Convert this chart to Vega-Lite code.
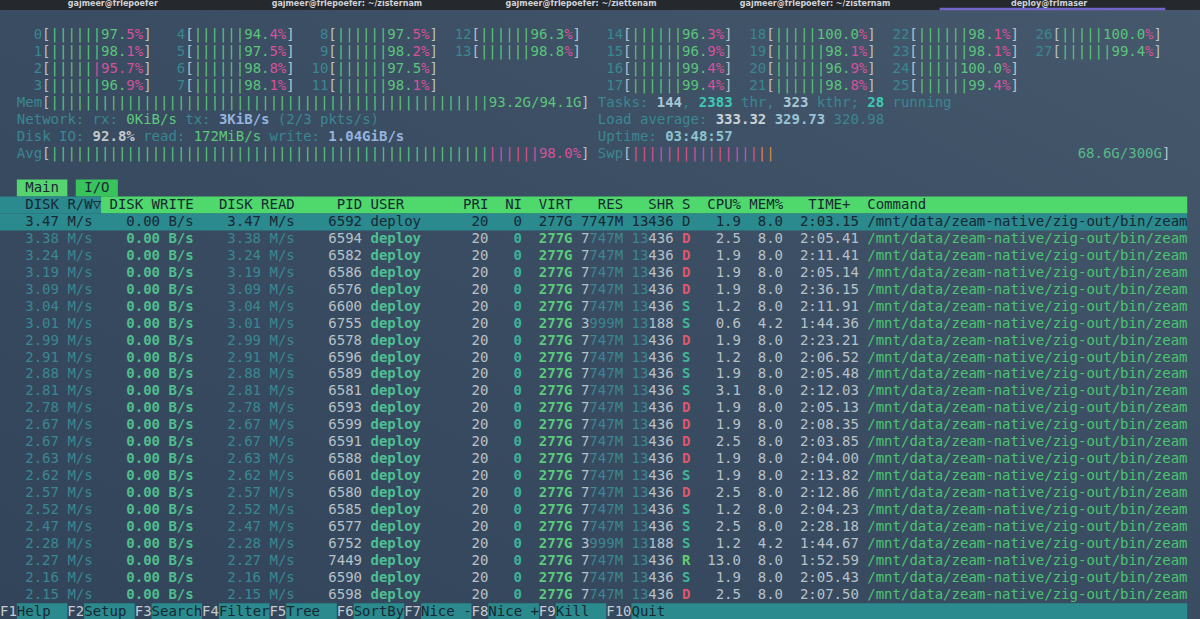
{
  "$schema": "https://vega.github.io/schema/vega-lite/v6.json",
  "description": "htop I/O tab: per-CPU meters, memory/swap summary and processes sorted by DISK R/W",
  "width": 1200,
  "height": 619,
  "padding": 0,
  "autosize": {"type": "none"},
  "background": "#36495d",
  "config": {
    "view": {"stroke": null},
    "axis": {"disable": true},
    "text": {"font": "DejaVu Sans Mono", "fontSize": 14, "baseline": "middle", "align": "left"}
  },
  "datasets": {
    "cpus": [
      {"id": 0, "pct": 97.5, "user": 82.1}, {"id": 1, "pct": 98.1, "user": 83.4},
      {"id": 2, "pct": 95.7, "user": 45.2}, {"id": 3, "pct": 96.9, "user": 81.6},
      {"id": 4, "pct": 94.4, "user": 80.9}, {"id": 5, "pct": 97.5, "user": 82.7},
      {"id": 6, "pct": 98.8, "user": 84.0}, {"id": 7, "pct": 98.1, "user": 83.1},
      {"id": 8, "pct": 97.5, "user": 82.5}, {"id": 9, "pct": 98.2, "user": 83.6},
      {"id": 10, "pct": 97.5, "user": 88.9}, {"id": 11, "pct": 98.1, "user": 82.8},
      {"id": 12, "pct": 96.3, "user": 89.4}, {"id": 13, "pct": 98.8, "user": 90.2},
      {"id": 14, "pct": 96.3, "user": 81.2}, {"id": 15, "pct": 96.9, "user": 82.0},
      {"id": 16, "pct": 99.4, "user": 84.6}, {"id": 17, "pct": 99.4, "user": 84.1},
      {"id": 18, "pct": 100.0, "user": 91.3}, {"id": 19, "pct": 98.1, "user": 83.3},
      {"id": 20, "pct": 96.9, "user": 81.9}, {"id": 21, "pct": 98.8, "user": 84.2},
      {"id": 22, "pct": 98.1, "user": 83.0}, {"id": 23, "pct": 98.1, "user": 82.9},
      {"id": 24, "pct": 100.0, "user": 90.6}, {"id": 25, "pct": 99.4, "user": 84.4},
      {"id": 26, "pct": 100.0, "user": 91.7}, {"id": 27, "pct": 99.4, "user": 89.8}
    ],
    "sys": [
      {"memUsed": 93.2, "memTotal": 94.1, "rxKiB": 0, "txKiB": 3, "pktsRx": 2, "pktsTx": 3,
       "diskUtil": 92.8, "readMiB": 172, "writeGiB": 1.04, "avg": 98.0, "avgUser": 82.5,
       "tasks": 144, "threads": 2383, "kthreads": 323, "running": 28,
       "load1": 333.32, "load5": 329.73, "load15": 320.98, "uptime": "03:48:57",
       "swpUsed": 68.6, "swpCache": 8, "swpTotal": 300}
    ],
    "procs": [
      {"rw": 3.47, "wr": 0, "rd": 3.47, "pid": 6592, "user": "deploy", "pri": 20, "ni": 0, "virt": "277G", "res": "7747M", "shr": 13436, "s": "D", "cpu": 1.9, "mem": 8.0, "time": "2:03.15", "cmd": "/mnt/data/zeam-native/zig-out/bin/zeam"},
      {"rw": 3.38, "wr": 0, "rd": 3.38, "pid": 6594, "user": "deploy", "pri": 20, "ni": 0, "virt": "277G", "res": "7747M", "shr": 13436, "s": "D", "cpu": 2.5, "mem": 8.0, "time": "2:05.41", "cmd": "/mnt/data/zeam-native/zig-out/bin/zeam"},
      {"rw": 3.24, "wr": 0, "rd": 3.24, "pid": 6582, "user": "deploy", "pri": 20, "ni": 0, "virt": "277G", "res": "7747M", "shr": 13436, "s": "D", "cpu": 1.9, "mem": 8.0, "time": "2:11.41", "cmd": "/mnt/data/zeam-native/zig-out/bin/zeam"},
      {"rw": 3.19, "wr": 0, "rd": 3.19, "pid": 6586, "user": "deploy", "pri": 20, "ni": 0, "virt": "277G", "res": "7747M", "shr": 13436, "s": "D", "cpu": 1.9, "mem": 8.0, "time": "2:05.14", "cmd": "/mnt/data/zeam-native/zig-out/bin/zeam"},
      {"rw": 3.09, "wr": 0, "rd": 3.09, "pid": 6576, "user": "deploy", "pri": 20, "ni": 0, "virt": "277G", "res": "7747M", "shr": 13436, "s": "D", "cpu": 1.9, "mem": 8.0, "time": "2:36.15", "cmd": "/mnt/data/zeam-native/zig-out/bin/zeam"},
      {"rw": 3.04, "wr": 0, "rd": 3.04, "pid": 6600, "user": "deploy", "pri": 20, "ni": 0, "virt": "277G", "res": "7747M", "shr": 13436, "s": "S", "cpu": 1.2, "mem": 8.0, "time": "2:11.91", "cmd": "/mnt/data/zeam-native/zig-out/bin/zeam"},
      {"rw": 3.01, "wr": 0, "rd": 3.01, "pid": 6755, "user": "deploy", "pri": 20, "ni": 0, "virt": "277G", "res": "3999M", "shr": 13188, "s": "S", "cpu": 0.6, "mem": 4.2, "time": "1:44.36", "cmd": "/mnt/data/zeam-native/zig-out/bin/zeam"},
      {"rw": 2.99, "wr": 0, "rd": 2.99, "pid": 6578, "user": "deploy", "pri": 20, "ni": 0, "virt": "277G", "res": "7747M", "shr": 13436, "s": "D", "cpu": 1.9, "mem": 8.0, "time": "2:23.21", "cmd": "/mnt/data/zeam-native/zig-out/bin/zeam"},
      {"rw": 2.91, "wr": 0, "rd": 2.91, "pid": 6596, "user": "deploy", "pri": 20, "ni": 0, "virt": "277G", "res": "7747M", "shr": 13436, "s": "S", "cpu": 1.2, "mem": 8.0, "time": "2:06.52", "cmd": "/mnt/data/zeam-native/zig-out/bin/zeam"},
      {"rw": 2.88, "wr": 0, "rd": 2.88, "pid": 6589, "user": "deploy", "pri": 20, "ni": 0, "virt": "277G", "res": "7747M", "shr": 13436, "s": "S", "cpu": 1.9, "mem": 8.0, "time": "2:05.48", "cmd": "/mnt/data/zeam-native/zig-out/bin/zeam"},
      {"rw": 2.81, "wr": 0, "rd": 2.81, "pid": 6581, "user": "deploy", "pri": 20, "ni": 0, "virt": "277G", "res": "7747M", "shr": 13436, "s": "S", "cpu": 3.1, "mem": 8.0, "time": "2:12.03", "cmd": "/mnt/data/zeam-native/zig-out/bin/zeam"},
      {"rw": 2.78, "wr": 0, "rd": 2.78, "pid": 6593, "user": "deploy", "pri": 20, "ni": 0, "virt": "277G", "res": "7747M", "shr": 13436, "s": "D", "cpu": 1.9, "mem": 8.0, "time": "2:05.13", "cmd": "/mnt/data/zeam-native/zig-out/bin/zeam"},
      {"rw": 2.67, "wr": 0, "rd": 2.67, "pid": 6599, "user": "deploy", "pri": 20, "ni": 0, "virt": "277G", "res": "7747M", "shr": 13436, "s": "D", "cpu": 1.9, "mem": 8.0, "time": "2:08.35", "cmd": "/mnt/data/zeam-native/zig-out/bin/zeam"},
      {"rw": 2.67, "wr": 0, "rd": 2.67, "pid": 6591, "user": "deploy", "pri": 20, "ni": 0, "virt": "277G", "res": "7747M", "shr": 13436, "s": "D", "cpu": 2.5, "mem": 8.0, "time": "2:03.85", "cmd": "/mnt/data/zeam-native/zig-out/bin/zeam"},
      {"rw": 2.63, "wr": 0, "rd": 2.63, "pid": 6588, "user": "deploy", "pri": 20, "ni": 0, "virt": "277G", "res": "7747M", "shr": 13436, "s": "D", "cpu": 1.9, "mem": 8.0, "time": "2:04.00", "cmd": "/mnt/data/zeam-native/zig-out/bin/zeam"},
      {"rw": 2.62, "wr": 0, "rd": 2.62, "pid": 6601, "user": "deploy", "pri": 20, "ni": 0, "virt": "277G", "res": "7747M", "shr": 13436, "s": "S", "cpu": 1.9, "mem": 8.0, "time": "2:13.82", "cmd": "/mnt/data/zeam-native/zig-out/bin/zeam"},
      {"rw": 2.57, "wr": 0, "rd": 2.57, "pid": 6580, "user": "deploy", "pri": 20, "ni": 0, "virt": "277G", "res": "7747M", "shr": 13436, "s": "D", "cpu": 2.5, "mem": 8.0, "time": "2:12.86", "cmd": "/mnt/data/zeam-native/zig-out/bin/zeam"},
      {"rw": 2.52, "wr": 0, "rd": 2.52, "pid": 6585, "user": "deploy", "pri": 20, "ni": 0, "virt": "277G", "res": "7747M", "shr": 13436, "s": "S", "cpu": 1.2, "mem": 8.0, "time": "2:04.23", "cmd": "/mnt/data/zeam-native/zig-out/bin/zeam"},
      {"rw": 2.47, "wr": 0, "rd": 2.47, "pid": 6577, "user": "deploy", "pri": 20, "ni": 0, "virt": "277G", "res": "7747M", "shr": 13436, "s": "S", "cpu": 2.5, "mem": 8.0, "time": "2:28.18", "cmd": "/mnt/data/zeam-native/zig-out/bin/zeam"},
      {"rw": 2.28, "wr": 0, "rd": 2.28, "pid": 6752, "user": "deploy", "pri": 20, "ni": 0, "virt": "277G", "res": "3999M", "shr": 13188, "s": "S", "cpu": 1.2, "mem": 4.2, "time": "1:44.67", "cmd": "/mnt/data/zeam-native/zig-out/bin/zeam"},
      {"rw": 2.27, "wr": 0, "rd": 2.27, "pid": 7449, "user": "deploy", "pri": 20, "ni": 0, "virt": "277G", "res": "7747M", "shr": 13436, "s": "R", "cpu": 13.0, "mem": 8.0, "time": "1:52.59", "cmd": "/mnt/data/zeam-native/zig-out/bin/zeam"},
      {"rw": 2.16, "wr": 0, "rd": 2.16, "pid": 6590, "user": "deploy", "pri": 20, "ni": 0, "virt": "277G", "res": "7747M", "shr": 13436, "s": "S", "cpu": 1.9, "mem": 8.0, "time": "2:05.43", "cmd": "/mnt/data/zeam-native/zig-out/bin/zeam"},
      {"rw": 2.15, "wr": 0, "rd": 2.15, "pid": 6598, "user": "deploy", "pri": 20, "ni": 0, "virt": "277G", "res": "7747M", "shr": 13436, "s": "D", "cpu": 2.5, "mem": 8.0, "time": "2:07.50", "cmd": "/mnt/data/zeam-native/zig-out/bin/zeam"}
    ],
    "keys": [
      {"key": "F1", "label": "Help"}, {"key": "F2", "label": "Setup"}, {"key": "F3", "label": "Search"},
      {"key": "F4", "label": "Filter"}, {"key": "F5", "label": "Tree"}, {"key": "F6", "label": "SortBy"},
      {"key": "F7", "label": "Nice -"}, {"key": "F8", "label": "Nice +"}, {"key": "F9", "label": "Kill"},
      {"key": "F10", "label": "Quit"}
    ],
    "tabs": [
      {"title": "gajmeer@frlepoefer"},
      {"title": "gajmeer@frlepoefer: ~/zisternam"},
      {"title": "gajmeer@frlepoefer: ~/ziettenam"},
      {"title": "gajmeer@frlepoefer: ~/zisternam"},
      {"title": "deploy@frlmaser"}
    ]
  },
  "layer": [
    {
      "description": "window chrome, tabs, header bar, selected row",
      "data": {"values": [{}]},
      "layer": [
        {
          "mark": {"type": "rect", "color": {"gradient": "linear", "x1": 0, "y1": 1, "x2": 1, "y2": 0,
            "stops": [{"offset": 0, "color": "#31445a"}, {"offset": 0.55, "color": "#3a4d62"}, {"offset": 1, "color": "#45586c"}]}},
          "encoding": {
            "x": {"datum": 0, "type": "quantitative", "scale": {"domain": [0, 142.52], "nice": false, "zero": false}},
            "x2": {"datum": 142.52},
            "y": {"datum": -2.094, "type": "quantitative", "scale": {"domain": [-2.094, 34.425], "nice": false, "zero": false, "reverse": true}},
            "y2": {"datum": 34.425}
          }
        },
        {"mark": {"type": "rect", "color": "#25282c"}, "encoding": {"x": {"datum": 0}, "x2": {"datum": 142.52}, "y": {"datum": -2.094}, "y2": {"datum": -1.5}}},
        {"mark": {"type": "rect", "color": "#7466c8"}, "encoding": {"x": {"datum": 111.6}, "x2": {"datum": 138.4}, "y": {"datum": -1.63}, "y2": {"datum": -1.49}}},
        {"mark": {"type": "rect", "color": "#56d470"}, "encoding": {"x": {"datum": 2}, "x2": {"datum": 8}, "y": {"datum": 8.5}, "y2": {"datum": 9.5}}},
        {"mark": {"type": "rect", "color": "#39c35c"}, "encoding": {"x": {"datum": 9}, "x2": {"datum": 14}, "y": {"datum": 8.5}, "y2": {"datum": 9.5}}},
        {"mark": {"type": "rect", "color": "#2a8a8d"}, "encoding": {"x": {"datum": 0}, "x2": {"datum": 12}, "y": {"datum": 9.5}, "y2": {"datum": 10.5}}},
        {"mark": {"type": "rect", "color": "#4fd86b"}, "encoding": {"x": {"datum": 12}, "x2": {"datum": 141}, "y": {"datum": 9.5}, "y2": {"datum": 10.5}}},
        {"mark": {"type": "rect", "color": "#2a8a8d"}, "encoding": {"x": {"datum": 0}, "x2": {"datum": 141}, "y": {"datum": 10.5}, "y2": {"datum": 11.5}}},
        {"mark": {"type": "text", "color": "#182834"}, "encoding": {"x": {"datum": 3}, "y": {"datum": 9}, "text": {"value": "Main"}}},
        {"mark": {"type": "text", "color": "#182834"}, "encoding": {"x": {"datum": 10}, "y": {"datum": 9}, "text": {"value": "I/O"}}},
        {
          "encoding": {"y": {"datum": 10}},
          "layer": [
            {"mark": {"type": "text", "color": "#182834"}, "encoding": {"x": {"datum": 3}, "text": {"value": "DISK R/W▽"}}},
            {"mark": {"type": "text", "color": "#182834"}, "encoding": {"x": {"datum": 13}, "text": {"value": "DISK WRITE"}}},
            {"mark": {"type": "text", "color": "#182834"}, "encoding": {"x": {"datum": 26}, "text": {"value": "DISK READ"}}},
            {"mark": {"type": "text", "color": "#182834"}, "encoding": {"x": {"datum": 40}, "text": {"value": "PID"}}},
            {"mark": {"type": "text", "color": "#182834"}, "encoding": {"x": {"datum": 44}, "text": {"value": "USER"}}},
            {"mark": {"type": "text", "color": "#182834"}, "encoding": {"x": {"datum": 55}, "text": {"value": "PRI"}}},
            {"mark": {"type": "text", "color": "#182834"}, "encoding": {"x": {"datum": 60}, "text": {"value": "NI"}}},
            {"mark": {"type": "text", "color": "#182834"}, "encoding": {"x": {"datum": 64}, "text": {"value": "VIRT"}}},
            {"mark": {"type": "text", "color": "#182834"}, "encoding": {"x": {"datum": 71}, "text": {"value": "RES"}}},
            {"mark": {"type": "text", "color": "#182834"}, "encoding": {"x": {"datum": 77}, "text": {"value": "SHR"}}},
            {"mark": {"type": "text", "color": "#182834"}, "encoding": {"x": {"datum": 81}, "text": {"value": "S"}}},
            {"mark": {"type": "text", "color": "#182834"}, "encoding": {"x": {"datum": 84}, "text": {"value": "CPU%"}}},
            {"mark": {"type": "text", "color": "#182834"}, "encoding": {"x": {"datum": 89}, "text": {"value": "MEM%"}}},
            {"mark": {"type": "text", "color": "#182834"}, "encoding": {"x": {"datum": 96}, "text": {"value": "TIME+"}}},
            {"mark": {"type": "text", "color": "#182834"}, "encoding": {"x": {"datum": 103}, "text": {"value": "Command"}}}
          ]
        }
      ]
    },
    {
      "description": "terminal tab titles in the dark strip at the top",
      "data": {"name": "tabs"},
      "transform": [
        {"window": [{"op": "row_number", "as": "n"}]},
        {"calculate": "13.4 + 27.8 * (datum.n - 1)", "as": "tx"}
      ],
      "mark": {"type": "text", "align": "center", "font": "DejaVu Sans", "fontSize": 8, "fontWeight": "bold", "color": "#cfd2d6"},
      "encoding": {"x": {"field": "tx", "type": "quantitative"}, "y": {"datum": -1.83}, "text": {"field": "title"}}
    },
    {
      "description": "per-CPU bar meters",
      "data": {"name": "cpus"},
      "transform": [
        {"calculate": "datum.id < 14 ? datum.id : datum.id - 14", "as": "j"},
        {"calculate": "(datum.id < 14 ? 5 : 74) + 17 * floor(datum.j / 4)", "as": "c"},
        {"calculate": "datum.j % 4", "as": "line"},
        {"calculate": "pad(format(datum.pct, '.1f') + '%', 11, '|', 'left')", "as": "full"},
        {"calculate": "round(datum.user * 11 / 100)", "as": "g"},
        {"calculate": "substring(datum.full, 0, datum.g)", "as": "gt"},
        {"calculate": "substring(datum.full, datum.g)", "as": "pt"},
        {"calculate": "datum.c + 1", "as": "c1"},
        {"calculate": "datum.c + 1 + datum.g", "as": "c2"},
        {"calculate": "datum.c + 12", "as": "c3"}
      ],
      "encoding": {"y": {"field": "line", "type": "quantitative"}},
      "layer": [
        {"mark": {"type": "text", "align": "right", "color": "#3b8791"}, "encoding": {"x": {"field": "c", "type": "quantitative"}, "text": {"field": "id", "type": "nominal"}}},
        {"mark": {"type": "text", "color": "#b8c1c8"}, "encoding": {"x": {"field": "c", "type": "quantitative"}, "text": {"value": "["}}},
        {"mark": {"type": "text", "color": "#5bc57b"}, "encoding": {"x": {"field": "c1", "type": "quantitative"}, "text": {"field": "gt"}}},
        {"mark": {"type": "text", "color": "#d7519a"}, "encoding": {"x": {"field": "c2", "type": "quantitative"}, "text": {"field": "pt"}}},
        {"mark": {"type": "text", "color": "#b8c1c8"}, "encoding": {"x": {"field": "c3", "type": "quantitative"}, "text": {"value": "]"}}}
      ]
    },
    {
      "description": "memory, network, disk, average, tasks, load, uptime, swap",
      "data": {"name": "sys"},
      "transform": [
        {"calculate": "pad(format(datum.memUsed, '.1f') + 'G/' + format(datum.memTotal, '.1f') + 'G', 63, '|', 'left')", "as": "memBar"},
        {"calculate": "datum.rxKiB + 'KiB/s'", "as": "rxT"},
        {"calculate": "datum.txKiB + 'KiB/s'", "as": "txT"},
        {"calculate": "'(' + datum.pktsRx + '/' + datum.pktsTx + ' pkts/s)'", "as": "pktT"},
        {"calculate": "format(datum.diskUtil, '.1f') + '%'", "as": "utilT"},
        {"calculate": "datum.readMiB + 'MiB/s'", "as": "readT"},
        {"calculate": "format(datum.writeGiB, '.2f') + 'GiB/s'", "as": "writeT"},
        {"calculate": "pad(format(datum.avg, '.1f') + '%', 63, '|', 'left')", "as": "avgFull"},
        {"calculate": "round(datum.avgUser * 63 / 100)", "as": "ag"},
        {"calculate": "substring(datum.avgFull, 0, datum.ag)", "as": "avgG"},
        {"calculate": "substring(datum.avgFull, datum.ag)", "as": "avgP"},
        {"calculate": "6 + datum.ag", "as": "avgPX"},
        {"calculate": "ceil(datum.swpUsed / datum.swpTotal * 63)", "as": "sp"},
        {"calculate": "pad('', datum.sp, '|')", "as": "swpP"},
        {"calculate": "pad('', ceil(datum.swpCache / datum.swpTotal * 63), '|')", "as": "swpC"},
        {"calculate": "75 + datum.sp", "as": "swpCX"},
        {"calculate": "format(datum.swpUsed, '.1f') + 'G/' + datum.swpTotal + 'G'", "as": "swpT"}
      ],
      "layer": [
        {"mark": {"type": "text", "color": "#3b8791"}, "encoding": {"x": {"datum": 2}, "y": {"datum": 4}, "text": {"value": "Mem"}}},
        {"mark": {"type": "text", "color": "#b8c1c8"}, "encoding": {"x": {"datum": 5}, "y": {"datum": 4}, "text": {"value": "["}}},
        {"mark": {"type": "text", "color": "#5bc57b"}, "encoding": {"x": {"datum": 6}, "y": {"datum": 4}, "text": {"field": "memBar"}}},
        {"mark": {"type": "text", "color": "#b8c1c8"}, "encoding": {"x": {"datum": 69}, "y": {"datum": 4}, "text": {"value": "]"}}},

        {"mark": {"type": "text", "color": "#3b8791"}, "encoding": {"x": {"datum": 2}, "y": {"datum": 5}, "text": {"value": "Network:"}}},
        {"mark": {"type": "text", "color": "#3b8791"}, "encoding": {"x": {"datum": 11}, "y": {"datum": 5}, "text": {"value": "rx:"}}},
        {"mark": {"type": "text", "color": "#5ec87c"}, "encoding": {"x": {"datum": 15}, "y": {"datum": 5}, "text": {"field": "rxT"}}},
        {"mark": {"type": "text", "color": "#3b8791"}, "encoding": {"x": {"datum": 22}, "y": {"datum": 5}, "text": {"value": "tx:"}}},
        {"mark": {"type": "text", "color": "#95b3df", "fontWeight": "bold"}, "encoding": {"x": {"datum": 26}, "y": {"datum": 5}, "text": {"field": "txT"}}},
        {"mark": {"type": "text", "color": "#3b8791"}, "encoding": {"x": {"datum": 33}, "y": {"datum": 5}, "text": {"field": "pktT"}}},

        {"mark": {"type": "text", "color": "#3b8791"}, "encoding": {"x": {"datum": 2}, "y": {"datum": 6}, "text": {"value": "Disk IO:"}}},
        {"mark": {"type": "text", "color": "#c2c9ce", "fontWeight": "bold"}, "encoding": {"x": {"datum": 11}, "y": {"datum": 6}, "text": {"field": "utilT"}}},
        {"mark": {"type": "text", "color": "#3b8791"}, "encoding": {"x": {"datum": 17}, "y": {"datum": 6}, "text": {"value": "read:"}}},
        {"mark": {"type": "text", "color": "#5ec87c"}, "encoding": {"x": {"datum": 23}, "y": {"datum": 6}, "text": {"field": "readT"}}},
        {"mark": {"type": "text", "color": "#3b8791"}, "encoding": {"x": {"datum": 32}, "y": {"datum": 6}, "text": {"value": "write:"}}},
        {"mark": {"type": "text", "color": "#95b3df", "fontWeight": "bold"}, "encoding": {"x": {"datum": 39}, "y": {"datum": 6}, "text": {"field": "writeT"}}},

        {"mark": {"type": "text", "color": "#3b8791"}, "encoding": {"x": {"datum": 2}, "y": {"datum": 7}, "text": {"value": "Avg"}}},
        {"mark": {"type": "text", "color": "#b8c1c8"}, "encoding": {"x": {"datum": 5}, "y": {"datum": 7}, "text": {"value": "["}}},
        {"mark": {"type": "text", "color": "#5bc57b"}, "encoding": {"x": {"datum": 6}, "y": {"datum": 7}, "text": {"field": "avgG"}}},
        {"mark": {"type": "text", "color": "#d7519a"}, "encoding": {"x": {"field": "avgPX", "type": "quantitative"}, "y": {"datum": 7}, "text": {"field": "avgP"}}},
        {"mark": {"type": "text", "color": "#b8c1c8"}, "encoding": {"x": {"datum": 69}, "y": {"datum": 7}, "text": {"value": "]"}}},

        {"mark": {"type": "text", "color": "#3b8791"}, "encoding": {"x": {"datum": 71}, "y": {"datum": 4}, "text": {"value": "Tasks:"}}},
        {"mark": {"type": "text", "color": "#a9c7d7", "fontWeight": "bold"}, "encoding": {"x": {"datum": 78}, "y": {"datum": 4}, "text": {"field": "tasks", "type": "nominal"}}},
        {"mark": {"type": "text", "color": "#3b8791"}, "encoding": {"x": {"datum": 81}, "y": {"datum": 4}, "text": {"value": ","}}},
        {"mark": {"type": "text", "color": "#3ccab6", "fontWeight": "bold"}, "encoding": {"x": {"datum": 83}, "y": {"datum": 4}, "text": {"field": "threads", "type": "nominal"}}},
        {"mark": {"type": "text", "color": "#3b8791"}, "encoding": {"x": {"datum": 88}, "y": {"datum": 4}, "text": {"value": "thr,"}}},
        {"mark": {"type": "text", "color": "#a9c7d7", "fontWeight": "bold"}, "encoding": {"x": {"datum": 93}, "y": {"datum": 4}, "text": {"field": "kthreads", "type": "nominal"}}},
        {"mark": {"type": "text", "color": "#3b8791"}, "encoding": {"x": {"datum": 97}, "y": {"datum": 4}, "text": {"value": "kthr;"}}},
        {"mark": {"type": "text", "color": "#3ccab6", "fontWeight": "bold"}, "encoding": {"x": {"datum": 103}, "y": {"datum": 4}, "text": {"field": "running", "type": "nominal"}}},
        {"mark": {"type": "text", "color": "#3b8791"}, "encoding": {"x": {"datum": 106}, "y": {"datum": 4}, "text": {"value": "running"}}},

        {"mark": {"type": "text", "color": "#3b8791"}, "encoding": {"x": {"datum": 71}, "y": {"datum": 5}, "text": {"value": "Load average:"}}},
        {"mark": {"type": "text", "color": "#cbd2d8", "fontWeight": "bold"}, "encoding": {"x": {"datum": 85}, "y": {"datum": 5}, "text": {"field": "load1", "type": "quantitative", "format": ".2f"}}},
        {"mark": {"type": "text", "color": "#97c4d6", "fontWeight": "bold"}, "encoding": {"x": {"datum": 92}, "y": {"datum": 5}, "text": {"field": "load5", "type": "quantitative", "format": ".2f"}}},
        {"mark": {"type": "text", "color": "#3b8791"}, "encoding": {"x": {"datum": 99}, "y": {"datum": 5}, "text": {"field": "load15", "type": "quantitative", "format": ".2f"}}},

        {"mark": {"type": "text", "color": "#3b8791"}, "encoding": {"x": {"datum": 71}, "y": {"datum": 6}, "text": {"value": "Uptime:"}}},
        {"mark": {"type": "text", "color": "#8cc3cc", "fontWeight": "bold"}, "encoding": {"x": {"datum": 79}, "y": {"datum": 6}, "text": {"field": "uptime"}}},

        {"mark": {"type": "text", "color": "#3b8791"}, "encoding": {"x": {"datum": 71}, "y": {"datum": 7}, "text": {"value": "Swp"}}},
        {"mark": {"type": "text", "color": "#b8c1c8"}, "encoding": {"x": {"datum": 74}, "y": {"datum": 7}, "text": {"value": "["}}},
        {"mark": {"type": "text", "color": "#d7519a"}, "encoding": {"x": {"datum": 75}, "y": {"datum": 7}, "text": {"field": "swpP"}}},
        {"mark": {"type": "text", "color": "#d98b3d"}, "encoding": {"x": {"field": "swpCX", "type": "quantitative"}, "y": {"datum": 7}, "text": {"field": "swpC"}}},
        {"mark": {"type": "text", "align": "right", "color": "#58b98a"}, "encoding": {"x": {"datum": 138}, "y": {"datum": 7}, "text": {"field": "swpT"}}},
        {"mark": {"type": "text", "color": "#b8c1c8"}, "encoding": {"x": {"datum": 138}, "y": {"datum": 7}, "text": {"value": "]"}}}
      ]
    },
    {
      "description": "process table, I/O columns first",
      "data": {"name": "procs"},
      "transform": [
        {"window": [{"op": "row_number", "as": "rank"}]},
        {"calculate": "datum.rank + 10", "as": "line"},
        {"calculate": "format(datum.rw, '.2f') + ' M/s'", "as": "rwT"},
        {"calculate": "format(datum.wr, '.2f') + ' B/s'", "as": "wrT"},
        {"calculate": "format(datum.rd, '.2f') + ' M/s'", "as": "rdT"},
        {"calculate": "substring(datum.res, 0, length(datum.res) - 4)", "as": "resH"},
        {"calculate": "substring(datum.res, length(datum.res) - 4)", "as": "resT"},
        {"calculate": "substring(datum.shr + '', 0, length(datum.shr + '') - 3)", "as": "shrH"},
        {"calculate": "substring(datum.shr + '', length(datum.shr + '') - 3)", "as": "shrT"}
      ],
      "encoding": {"y": {"field": "line", "type": "quantitative"}},
      "layer": [
        {"mark": {"type": "text"}, "encoding": {"x": {"datum": 3}, "text": {"field": "rwT"}, "color": {"condition": {"test": "datum.rank === 1", "value": "#182834"}, "value": "#3b8791"}}},
        {"transform": [{"filter": "datum.rank > 1"}], "mark": {"type": "text", "fontWeight": "bold", "color": "#50bd8d"}, "encoding": {"x": {"datum": 15}, "text": {"field": "wrT"}}},
        {"transform": [{"filter": "datum.rank === 1"}], "mark": {"type": "text", "color": "#182834"}, "encoding": {"x": {"datum": 15}, "text": {"field": "wrT"}}},
        {"mark": {"type": "text"}, "encoding": {"x": {"datum": 27}, "text": {"field": "rdT"}, "color": {"condition": {"test": "datum.rank === 1", "value": "#182834"}, "value": "#3b8791"}}},
        {"mark": {"type": "text", "align": "right"}, "encoding": {"x": {"datum": 43}, "text": {"field": "pid", "type": "nominal"}, "color": {"condition": {"test": "datum.rank === 1", "value": "#182834"}, "value": "#b8c1c8"}}},
        {"transform": [{"filter": "datum.rank > 1"}], "mark": {"type": "text", "fontWeight": "bold", "color": "#4dbf93"}, "encoding": {"x": {"datum": 44}, "text": {"field": "user"}}},
        {"transform": [{"filter": "datum.rank === 1"}], "mark": {"type": "text", "color": "#182834"}, "encoding": {"x": {"datum": 44}, "text": {"field": "user"}}},
        {"mark": {"type": "text", "align": "right"}, "encoding": {"x": {"datum": 58}, "text": {"field": "pri", "type": "nominal"}, "color": {"condition": {"test": "datum.rank === 1", "value": "#182834"}, "value": "#b8c1c8"}}},
        {"transform": [{"filter": "datum.rank > 1"}], "mark": {"type": "text", "align": "right", "fontWeight": "bold", "color": "#3bb39a"}, "encoding": {"x": {"datum": 62}, "text": {"field": "ni", "type": "nominal"}}},
        {"transform": [{"filter": "datum.rank === 1"}], "mark": {"type": "text", "align": "right", "color": "#182834"}, "encoding": {"x": {"datum": 62}, "text": {"field": "ni", "type": "nominal"}}},
        {"transform": [{"filter": "datum.rank > 1"}], "mark": {"type": "text", "align": "right", "fontWeight": "bold", "color": "#5cca7c"}, "encoding": {"x": {"datum": 68}, "text": {"field": "virt"}}},
        {"transform": [{"filter": "datum.rank === 1"}], "mark": {"type": "text", "align": "right", "color": "#182834"}, "encoding": {"x": {"datum": 68}, "text": {"field": "virt"}}},
        {"mark": {"type": "text", "align": "right"}, "encoding": {"x": {"datum": 70}, "text": {"field": "resH"}, "color": {"condition": {"test": "datum.rank === 1", "value": "#182834"}, "value": "#b8c1c8"}}},
        {"mark": {"type": "text", "align": "right"}, "encoding": {"x": {"datum": 74}, "text": {"field": "resT"}, "color": {"condition": {"test": "datum.rank === 1", "value": "#182834"}, "value": "#3b8791"}}},
        {"mark": {"type": "text", "align": "right"}, "encoding": {"x": {"datum": 77}, "text": {"field": "shrH"}, "color": {"condition": {"test": "datum.rank === 1", "value": "#182834"}, "value": "#3b8791"}}},
        {"mark": {"type": "text", "align": "right"}, "encoding": {"x": {"datum": 80}, "text": {"field": "shrT"}, "color": {"condition": {"test": "datum.rank === 1", "value": "#182834"}, "value": "#b8c1c8"}}},
        {"transform": [{"filter": "datum.rank > 1"}], "mark": {"type": "text", "fontWeight": "bold"}, "encoding": {"x": {"datum": 81}, "text": {"field": "s"}, "color": {"condition": [{"test": "datum.s === 'D'", "value": "#e0566b"}, {"test": "datum.s === 'R'", "value": "#5fcd6d"}], "value": "#3db893"}}},
        {"transform": [{"filter": "datum.rank === 1"}], "mark": {"type": "text", "color": "#182834"}, "encoding": {"x": {"datum": 81}, "text": {"field": "s"}}},
        {"mark": {"type": "text", "align": "right"}, "encoding": {"x": {"datum": 88}, "text": {"field": "cpu", "type": "quantitative", "format": ".1f"}, "color": {"condition": {"test": "datum.rank === 1", "value": "#182834"}, "value": "#b8c1c8"}}},
        {"mark": {"type": "text", "align": "right"}, "encoding": {"x": {"datum": 93}, "text": {"field": "mem", "type": "quantitative", "format": ".1f"}, "color": {"condition": {"test": "datum.rank === 1", "value": "#182834"}, "value": "#b8c1c8"}}},
        {"mark": {"type": "text"}, "encoding": {"x": {"datum": 95}, "text": {"field": "time"}, "color": {"condition": {"test": "datum.rank === 1", "value": "#182834"}, "value": "#b8c1c8"}}},
        {"mark": {"type": "text"}, "encoding": {"x": {"datum": 103}, "text": {"field": "cmd"}, "color": {"condition": {"test": "datum.rank === 1", "value": "#182834"}, "value": "#4ac470"}}}
      ]
    },
    {
      "description": "function key bar",
      "data": {"name": "keys"},
      "transform": [
        {"window": [{"op": "row_number", "as": "n"}]},
        {"calculate": "(datum.n - 1) * 8", "as": "kc"},
        {"calculate": "datum.kc + length(datum.key)", "as": "lc"},
        {"calculate": "datum.n === 10 ? 141 : datum.kc + 8", "as": "le"}
      ],
      "layer": [
        {"mark": {"type": "rect", "color": "#2a8a8d"}, "encoding": {"x": {"field": "lc", "type": "quantitative"}, "x2": {"field": "le"}, "y": {"datum": 33.5}, "y2": {"datum": 34.5}}},
        {"mark": {"type": "text", "color": "#c3cad0"}, "encoding": {"x": {"field": "kc", "type": "quantitative"}, "y": {"datum": 34}, "text": {"field": "key"}}},
        {"mark": {"type": "text", "color": "#182834"}, "encoding": {"x": {"field": "lc", "type": "quantitative"}, "y": {"datum": 34}, "text": {"field": "label"}}}
      ]
    }
  ]
}
